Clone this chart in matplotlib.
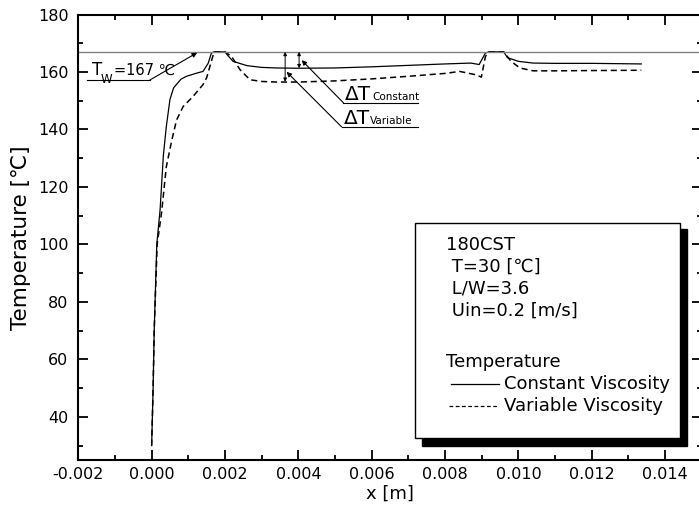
import matplotlib
matplotlib.use("Agg")
import matplotlib.pyplot as plt
from matplotlib.patches import Rectangle
from matplotlib.ticker import MultipleLocator

plt.rcParams['font.family'] = ['DejaVu Sans']

# constant viscosity curve
x_const = [0, 0.00004, 0.00007, 0.00014, 0.00023, 0.00032, 0.0004, 0.0005, 0.0006,
           0.0008, 0.00095, 0.0012, 0.0014, 0.00154, 0.00163, 0.0017, 0.002, 0.00206,
           0.00222, 0.0026, 0.003, 0.0034, 0.004, 0.005, 0.006, 0.007, 0.008, 0.0087,
           0.00893, 0.0091, 0.0092, 0.0096, 0.0097, 0.01, 0.0104, 0.011, 0.012, 0.01335]
t_const = [30, 50, 70, 100, 112, 131, 141, 150.5, 154.5,
           157.5, 158.5, 159.5, 160.2, 163, 166.6, 167, 167, 166,
           163.7, 162.2, 161.6, 161.4, 161.3, 161.4, 161.8, 162.3, 162.8, 163.1,
           162.6, 166.6, 167, 167, 165, 163.7, 163.1, 163, 163, 162.8]

# variable viscosity curve
x_var = [0, 0.00004, 0.00007, 0.00015, 0.00027, 0.0004, 0.00055, 0.00068, 0.00086,
         0.00113, 0.0014, 0.0015, 0.00159, 0.00168, 0.0017, 0.002, 0.00218, 0.00241,
         0.00268, 0.003, 0.0034, 0.004, 0.005, 0.006, 0.007, 0.008, 0.0084, 0.00885,
         0.00899, 0.0091, 0.0092, 0.0096, 0.0098, 0.01004, 0.0104, 0.011, 0.012, 0.01335]
t_var = [30, 50, 70, 100, 111, 127, 136.3, 143.3, 148,
         151.5, 155.6, 158, 162, 166, 167, 167, 165.4, 160.8,
         157.3, 156.7, 156.5, 156.5, 156.9, 157.6, 158.5, 159.5, 160.2, 159,
         158.2, 165.4, 167, 167, 163.7, 161.4, 160.4, 160.4, 160.5, 160.6]

t_wall = 167
dt_const_x = 0.00402
dt_var_x = 0.00364
dt_const_low = 161.3
dt_var_low = 156.6

info_lines = ["180CST", " T=30 [\u2103]", " L/W=3.6", " Uin=0.2 [m/s]"]

fig = plt.figure(figsize=(6.99, 5.18), dpi=100)
ax = fig.add_axes([0.112, 0.112, 0.892, 0.860])

ax.plot(x_const, t_const, color='black', lw=0.9)
ax.plot(x_var, t_var, color='black', lw=1.1, linestyle=(0, (4, 2.5)))
ax.axhline(t_wall, color='#808080', lw=1.0)

ax.set_xlim(-0.002, 0.015)
ax.set_ylim(25, 180)
ax.xaxis.set_major_locator(MultipleLocator(0.002))
ax.xaxis.set_minor_locator(MultipleLocator(0.001))
ax.yaxis.set_major_locator(MultipleLocator(20))
ax.yaxis.set_minor_locator(MultipleLocator(10))
ax.set_xticks([-0.002, 0, 0.002, 0.004, 0.006, 0.008, 0.010, 0.012, 0.014])
ax.set_xticklabels(['-0.002', '0.000', '0.002', '0.004', '0.006', '0.008',
                    '0.010', '0.012', '0.014'])
ax.set_yticks([40, 60, 80, 100, 120, 140, 160, 180])
ax.tick_params(which='both', direction='in', top=True, right=True, width=1.3,
               labelsize=11.5)
ax.tick_params(which='major', length=7)
ax.tick_params(which='minor', length=3.5)
ax.tick_params(axis='y', pad=7)
ax.tick_params(axis='x', pad=5)
for s in ax.spines.values():
    s.set_linewidth(1.5)

ax.set_xlabel('x [m]', fontsize=13, labelpad=2)
ax.set_ylabel('Temperature [\u2103]', fontsize=15.5, labelpad=5)

# Tw label
ax.text(-0.00163, 158.9, 'T', fontsize=12, va='baseline')
ax.text(-0.00138, 156.0, 'W', fontsize=8.5, va='baseline')
ax.text(-0.00103, 158.9, '=167 \u2103', fontsize=10.5, va='baseline')
ax.plot([-0.00177, -0.00005], [157.2, 157.2], color='black', lw=0.8)
ax.annotate('', xy=(0.00124, 166.7), xytext=(-0.00005, 157.2),
            arrowprops=dict(arrowstyle='-|>', color='black', lw=0.8,
                            mutation_scale=7, shrinkA=0, shrinkB=0))

# delta T arrows
for xx, lo in [(dt_var_x, dt_var_low), (dt_const_x, dt_const_low)]:
    ax.annotate('', xy=(xx, t_wall), xytext=(xx, lo),
                arrowprops=dict(arrowstyle='<|-|>', color='black', lw=0.7,
                                mutation_scale=5, shrinkA=0, shrinkB=0))

# delta T labels with leaders
for (x0, y0, tip, sub) in [(0.00523, 149.25, (0.00409, 164.1), 'Constant'),
                           (0.00518, 140.9, (0.00368, 160.05), 'Variable')]:
    ax.plot([x0, 0.00725], [y0, y0], color='black', lw=0.8)
    ax.annotate('', xy=tip, xytext=(x0, y0),
                arrowprops=dict(arrowstyle='-|>', color='black', lw=0.8,
                                mutation_scale=7, shrinkA=0, shrinkB=0))
    ax.text(x0 + 0.00005, y0 + 1.0, '\u0394T', fontsize=14.5, va='baseline')
    ax.text(x0 + 0.00078, y0 + 1.0, sub, fontsize=7.5, va='baseline')

# info box with shadow
ax.add_patch(Rectangle((0.551, 0.0325), 0.426, 0.485, transform=ax.transAxes,
                       facecolor='black', edgecolor='black', zorder=5))
ax.add_patch(Rectangle((0.540, 0.0487), 0.425, 0.4843, transform=ax.transAxes,
                       facecolor='white', edgecolor='black', lw=1.0, zorder=6))
ys = [0.483, 0.433, 0.384, 0.334]
for y, s in zip(ys, info_lines):
    ax.text(0.5905, y, s, transform=ax.transAxes, fontsize=13, va='center', zorder=7)
ax.text(0.5905, 0.220, 'Temperature', transform=ax.transAxes, fontsize=13,
        va='center', zorder=7)
ax.plot([0.598, 0.675], [0.171, 0.171], transform=ax.transAxes, color='black',
        lw=0.9, zorder=7)
ax.plot([0.594, 0.675], [0.121, 0.121], transform=ax.transAxes, color='black',
        lw=0.9, linestyle=(0, (3, 2)), zorder=7)
ax.text(0.682, 0.171, 'Constant Viscosity', transform=ax.transAxes, fontsize=13,
        va='center', zorder=7)
ax.text(0.682, 0.121, 'Variable Viscosity', transform=ax.transAxes, fontsize=13,
        va='center', zorder=7)

fig.savefig('out.png', dpi=100)
